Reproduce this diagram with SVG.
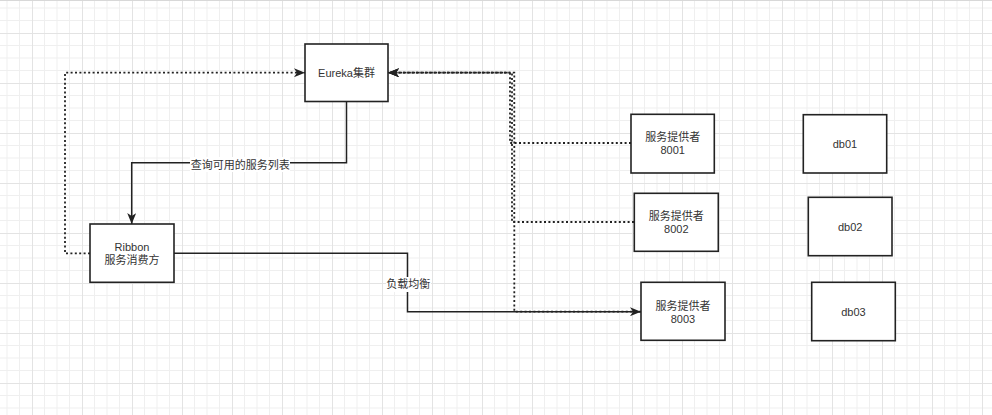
<svg xmlns="http://www.w3.org/2000/svg" width="992" height="415" viewBox="0 0 992 415">
<style>
.box{fill:#fff;stroke:#222;stroke-width:1.6}
.t{font-family:"Liberation Sans","Noto Sans CJK SC",sans-serif;font-size:11px;fill:#333;text-anchor:middle;dominant-baseline:central}
.solid{fill:none;stroke:#222;stroke-width:1.5}
.dot{fill:none;stroke:#222;stroke-width:1.8;stroke-dasharray:2 2.4}
.lbl{fill:#fff}
</style>
<defs>
<pattern id="grid" x="-18" y="-17" width="50" height="50" patternUnits="userSpaceOnUse">
<path d="M12.5,0V50M25,0V50M37.5,0V50M0,12.5H50M0,25H50M0,37.5H50" fill="none" stroke="#efefef" stroke-width="1"/>
<path d="M0.5,0V50M0,0.5H50" fill="none" stroke="#e3e3e3" stroke-width="1"/>
</pattern>
<marker id="arr" viewBox="0 0 11 9" refX="11" refY="4.5" markerWidth="11" markerHeight="9" markerUnits="userSpaceOnUse" orient="auto">
<path d="M0,0 L11,4.5 L0,9 L3,4.5 Z" fill="#222"/>
</marker>
</defs>
<rect width="992" height="415" fill="#fff"/>
<rect width="992" height="415" fill="url(#grid)"/>
<line x1="0" y1="0.5" x2="992" y2="0.5" stroke="#d8d8d8" stroke-width="1"/>

<g id="connectors">
<path class="solid" d="M346.5,101 V162.7 H131.7 V224" marker-end="url(#arr)"/>
<path class="dot" d="M90,253.3 H65 V72.7 H305" marker-end="url(#arr)"/>
<path class="solid" d="M174,253.3 H407.5 V311.7 H641" marker-end="url(#arr)"/>
<path class="dot" d="M631,143 H510 V72.7 H388" marker-end="url(#arr)"/>
<path class="dot" d="M634,222 H512 V72.7 H388" marker-end="url(#arr)"/>
<path class="dot" d="M641,311.7 H514.3 V72.7 H388" marker-end="url(#arr)"/>
<rect class="lbl" x="190" y="157" width="100" height="15"/>
<text class="t" x="240.3" y="164.5">查询可用的服务列表</text>
<rect class="lbl" x="386" y="277" width="45" height="15"/>
<text class="t" x="408.3" y="284">负载均衡</text>
</g>

<g id="eureka">
<rect class="box" x="305" y="44" width="83" height="57.5"/>
<text class="t" x="346.5" y="73">Eureka集群</text>
</g>
<g id="ribbon">
<rect class="box" x="90" y="224" width="84" height="58.3"/>
<text class="t" x="132" y="247.3">Ribbon</text>
<text class="t" x="132" y="260.3">服务消费方</text>
</g>
<g id="p8001">
<rect class="box" x="631" y="114.3" width="83.3" height="58.7"/>
<text class="t" x="672.7" y="137.3">服务提供者</text>
<text class="t" x="672.7" y="150.3">8001</text>
</g>
<g id="p8002">
<rect class="box" x="634.3" y="193.3" width="84" height="58"/>
<text class="t" x="676.3" y="216">服务提供者</text>
<text class="t" x="676.3" y="229">8002</text>
</g>
<g id="p8003">
<rect class="box" x="641" y="282.3" width="84" height="58"/>
<text class="t" x="683" y="305.7">服务提供者</text>
<text class="t" x="683" y="318.5">8003</text>
</g>
<g id="db01">
<rect class="box" x="803.3" y="114.7" width="83.4" height="58.3"/>
<text class="t" x="845" y="144">db01</text>
</g>
<g id="db02">
<rect class="box" x="808.3" y="197.3" width="83.7" height="58.4"/>
<text class="t" x="850.2" y="226.7">db02</text>
</g>
<g id="db03">
<rect class="box" x="811.7" y="282.3" width="83.6" height="58.4"/>
<text class="t" x="853.5" y="312">db03</text>
</g>
</svg>
